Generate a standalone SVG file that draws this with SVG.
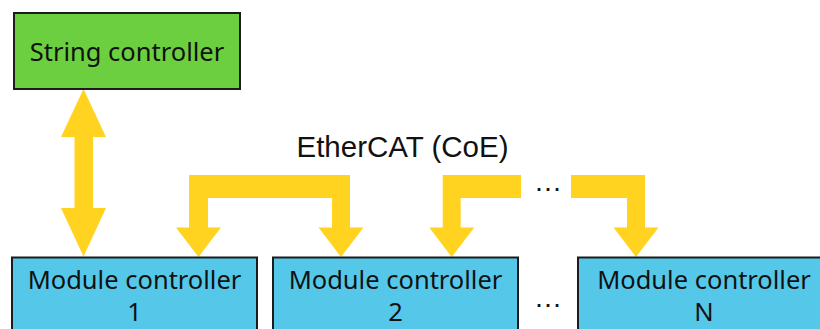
<svg xmlns="http://www.w3.org/2000/svg" width="820" height="329" viewBox="0 0 820 329">
  <style>
    .box { stroke: #1c1c1c; stroke-width: 2; }
    .string { fill: #6ccf3f; }
    .module { fill: #55c8ea; }
    .label { font-family: "Noto Sans", "DejaVu Sans", sans-serif; font-size: 25.5px; fill: #111; text-anchor: middle; }
    .bus { fill: #ffd320; }
    .title { font-family: "Liberation Sans", Arial, sans-serif; font-size: 29.5px; fill: #111; text-anchor: middle; }
    .dots { font-family: "Liberation Sans", Arial, sans-serif; font-size: 28.5px; fill: #111; text-anchor: middle; }
  </style>

  <rect width="820" height="329" fill="#ffffff"/>

  <!-- Fieldbus connectors -->
  <g id="connectors">
    <!-- string controller <-> module controller 1 -->
    <polygon class="bus" points="83.5,89 106,137 93,137 93,208 106,208 83.5,256.5 61,208 74.5,208 74.5,137 61,137"/>
    <!-- module 1 -> module 2 bracket -->
    <polygon class="bus" points="189,227.5 176,227.5 198.5,257 221,227.5 208,227.5 208,198 332,198 332,227.5 318.5,227.5 341,257 363.5,227.5 350,227.5 350,175 189,175"/>
    <!-- module 2 -> continuation -->
    <polygon class="bus" points="442.7,227.5 429.3,227.5 451.7,257 474.3,227.5 460.7,227.5 460.7,198 521,198 521,175 442.7,175"/>
    <!-- continuation -> module N -->
    <polygon class="bus" points="571,175 645,175 645,227.5 658.5,227.5 636,257 613.5,227.5 627,227.5 627,198 571,198"/>
    <text class="dots" x="548" y="191">…</text>
  </g>

  <text class="title" x="402.5" y="157">EtherCAT (CoE)</text>

  <g id="string-controller">
    <rect class="box string" x="14" y="13" width="226" height="76"/>
    <text class="label" x="127" y="60.5">String controller</text>
  </g>

  <g id="module-controller-1">
    <rect class="box module" x="12" y="257.5" width="245" height="90"/>
    <text class="label" x="134.5" y="289">Module controller</text>
    <text class="label" x="134.5" y="321">1</text>
  </g>

  <g id="module-controller-2">
    <rect class="box module" x="273" y="257.5" width="245" height="90"/>
    <text class="label" x="395.5" y="289">Module controller</text>
    <text class="label" x="395.5" y="321">2</text>
  </g>

  <text class="dots" x="548" y="307">…</text>

  <g id="module-controller-n">
    <rect class="box module" x="578" y="257.5" width="254" height="90"/>
    <text class="label" x="704" y="289">Module controller</text>
    <text class="label" x="704" y="321">N</text>
  </g>
</svg>
